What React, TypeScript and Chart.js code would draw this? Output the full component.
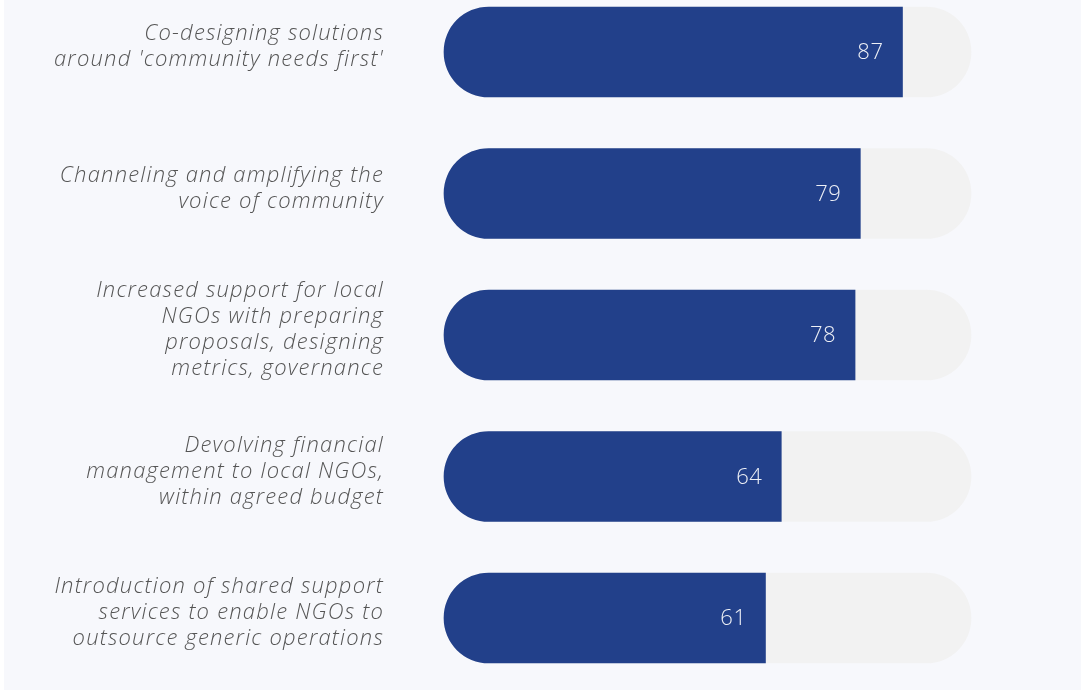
import React, { useEffect, useRef } from "react";
import { Chart, registerables } from "chart.js";

Chart.register(...registerables);

const categories: string[][] = [
  ["Co-designing solutions", "around 'community needs first'"],
  ["Channeling and amplifying the", "voice of community"],
  ["Increased support for local", "NGOs with preparing", "proposals, designing", "metrics, governance"],
  ["Devolving financial", "management to local NGOs,", "within agreed budget"],
  ["Introduction of shared support", "services to enable NGOs to", "outsource generic operations"],
];
const values: number[] = [87, 79, 78, 64, 61];
const trackValues: number[] = [100, 100, 100, 100, 100];

const BAR_COLOR = "#22408a";
const TRACK_COLOR = "#f2f2f2";
const BG = "#f7f8fc";

const spacingPlugin = {
  id: "labelSpacing",
  beforeDraw(chart: any) {
    chart.ctx.letterSpacing = "1.2px";
  },
  beforeDatasetsDraw(chart: any) {
    chart.ctx.letterSpacing = "0px";
  },
};

const valueLabelPlugin = {
  id: "valueLabels",
  afterDatasetsDraw(chart: any) {
    const meta = chart.getDatasetMeta(0);
    const ctx = chart.ctx;
    ctx.save();
    ctx.letterSpacing = "0.5px";
    ctx.fillStyle = "#eef0f6";
    ctx.font = "300 22px 'Open Sans', Lato, sans-serif";
    ctx.textAlign = "right";
    ctx.textBaseline = "middle";
    meta.data.forEach((el: any, i: number) => {
      ctx.fillText(String(values[i]), el.x - 19, el.y + 1);
    });
    ctx.restore();
  },
};

export default function App() {
  const ref = useRef<HTMLCanvasElement | null>(null);
  useEffect(() => {
    document.body.style.margin = "0";
    document.body.style.background = "#ffffff";
    if (!ref.current) return;
    const chart = new Chart(ref.current, {
      type: "bar",
      data: {
        labels: categories,
        datasets: [
          {
            data: values,
            backgroundColor: BAR_COLOR,
            barThickness: 90,
            borderRadius: { topLeft: 45, bottomLeft: 45, topRight: 0, bottomRight: 0 },
            borderSkipped: false,
            grouped: false,
            order: 0,
            clip: false as any,
          },
          {
            data: trackValues,
            backgroundColor: TRACK_COLOR,
            barThickness: 90,
            borderRadius: 45,
            borderSkipped: false,
            grouped: false,
            order: 1,
            clip: false as any,
          },
        ],
      },
      options: {
        indexAxis: "y",
        responsive: false,
        animation: false,
        layout: { padding: { top: 52, bottom: 76, right: 110, left: 0 } },
        plugins: { legend: { display: false }, tooltip: { enabled: false } },
        scales: {
          x: { display: false, min: 0, max: 100 },
          y: {
            offset: false,
            grid: { display: false },
            border: { display: false },
            afterFit: (scale: any) => {
              scale.width = 444;
              scale.paddingTop = 0;
              scale.paddingBottom = 0;
            },
            ticks: {
              padding: 52,
              labelOffset: -5,
              color: "#555555",
              font: { family: "'Open Sans', Lato, sans-serif", size: 22, style: "italic", weight: 300 as any, lineHeight: 1.18 },
            },
          },
        },
      },
      plugins: [spacingPlugin, valueLabelPlugin],
    });
    return () => chart.destroy();
  }, []);
  return (
    <div style={{ position: "absolute", left: 0, top: 0, width: 1081, height: 694, background: "#ffffff" }}>
      <div style={{ position: "absolute", left: 4, top: 0, width: 1077, height: 690, background: BG }} />
      <canvas ref={ref} width={1081} height={694} style={{ position: "absolute", left: 0, top: 0 }} />
    </div>
  );
}
